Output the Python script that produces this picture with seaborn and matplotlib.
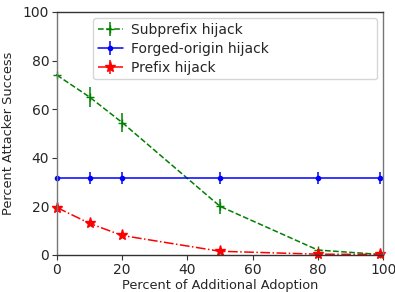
import matplotlib
matplotlib.use("Agg")
import matplotlib.pyplot as plt
import seaborn as sns
import numpy as np

sns.set_style("white")
plt.rcParams['font.family'] = ['DejaVu Sans']

adoption = [0, 10, 20, 50, 80, 99]
subprefix = [74, 65, 54.5, 20, 2, 0.2]
subprefix_err = [0.5, 4, 4, 3, 0.5, 0.3]
forged = [31.5, 31.5, 31.5, 31.5, 31.5, 31.5]
forged_err = [1.0, 2.5, 2.5, 2.5, 2.5, 2.5]
prefix = [19.5, 13, 8, 1.5, 0.3, 0.2]
prefix_err = [0.5, 0.8, 0.8, 0.5, 0.3, 0.3]

fig = plt.figure(figsize=(3.95, 2.92), dpi=100)
ax = fig.add_axes([0.144, 0.127, 0.826, 0.832])

ax.errorbar(adoption, subprefix, yerr=subprefix_err, color='green', ls='--',
            marker='+', markersize=6, lw=1.1, label='Subprefix hijack', clip_on=False)
ax.errorbar(adoption, forged, yerr=forged_err, color='blue', ls='-',
            marker='.', markersize=6, lw=1.1, label='Forged-origin hijack', clip_on=False)
ax.errorbar(adoption, prefix, yerr=prefix_err, color='red', ls='-.',
            marker='*', markersize=8, lw=1.1, label='Prefix hijack', clip_on=False)

ax.set_xlim(0, 100)
ax.set_ylim(0, 100)
ax.set_xticks([0, 20, 40, 60, 80, 100])
ax.set_yticks([0, 20, 40, 60, 80, 100])
ax.tick_params(axis='both', labelsize=10, length=3.5, direction='out', bottom=True, left=True,
               color='#333333', pad=2)
ax.set_xlabel('Percent of Additional Adoption', fontsize=9.3, labelpad=2)
ax.set_ylabel('Percent Attacker Success', fontsize=9.3, labelpad=6)
for name, s in ax.spines.items():
    s.set_color('#333333' if name in ('top', 'bottom') else '#777777')
    s.set_linewidth(1.0)
ax.legend(loc='upper left', bbox_to_anchor=(0.11, 0.72, 0.87, 0.255), mode='expand',
          fontsize=10, frameon=True, borderaxespad=0.0, handlelength=1.8,
          handletextpad=0.6, labelspacing=0.35, borderpad=0.35)

fig.savefig('out.png', dpi=100)
